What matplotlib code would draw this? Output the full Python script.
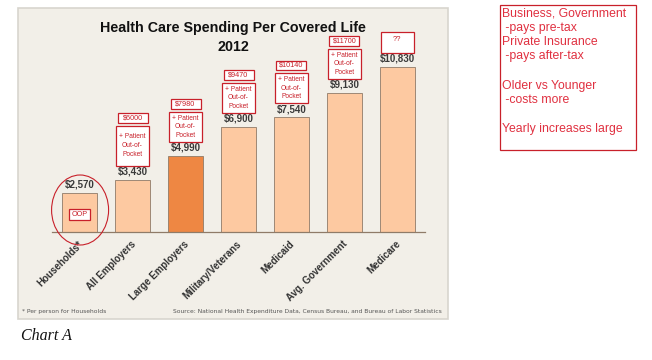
import matplotlib
matplotlib.use("Agg")
import matplotlib.pyplot as plt
from matplotlib.patches import Rectangle, Ellipse
from matplotlib import font_manager
import matplotlib.transforms as mtransforms

# data
categories = ["Households", "All Employers", "Large Employers", "Military/Veterans",
              "Medicaid", "Avg. Government", "Medicare"]
spending = [2570, 3430, 4990, 6900, 7540, 9130, 10830]
highlight = "Large Employers"
total_notes = [None, "$6000", "$7980", "$9470", "$10140", "$11700", "??"]
oop_text = "+ Patient\nOut-of-\nPocket"
side_notes = ["Business, Government", " -pays pre-tax", "Private Insurance", " -pays after-tax", "",
              "Older vs Younger", " -costs more", "", "Yearly increases large"]

W, H = 652, 360
RED = "#c8202a"
LIGHT = "#fdc9a1"
DARK = "#ee8743"

fig = plt.figure(figsize=(W / 100, H / 100), dpi=100)
fig.patch.set_facecolor("white")


def fx(x):
    return x / W


def fy(y):
    return 1 - y / H


# beige panel
fig.add_artist(Rectangle((fx(18), fy(319)), 430 / W, 311 / H, transform=fig.transFigure,
                         fc="#f2efe8", ec="#d8d5ce", lw=1.2, zorder=-1))

# axes: baseline at y=232 px, from x=52 to 425 px
ax_top, ax_bot = 8, 232
ax = fig.add_axes([fx(52), fy(ax_bot), (425 - 52) / W, (ax_bot - ax_top) / H])
ax.set_facecolor("none")
ymax = 14700
ax.set_ylim(0, ymax)
ax.set_xlim(-0.52, len(categories) - 0.48)
dpp = ymax / (ax_bot - ax_top)  # dollars per pixel
upx = (len(categories) + 0.04) / (425 - 52)  # x units per pixel

x = list(range(len(categories)))
colors = [DARK if c == highlight else LIGHT for c in categories]
ax.bar(x, spending, width=0.66, color=colors, edgecolor="#8f7b68", linewidth=0.6, zorder=2)

for s in ["top", "left", "right"]:
    ax.spines[s].set_visible(False)
ax.spines["bottom"].set_color("#8f7b68")
ax.spines["bottom"].set_linewidth(0.9)
ax.set_yticks([])
ax.set_xticks(x)
labels = [c + "*" if i == 0 else c for i, c in enumerate(categories)]
ax.set_xticklabels(labels, rotation=45, ha="right", rotation_mode="anchor",
                   fontsize=7, fontweight="bold", color="#333333", family="Liberation Sans")
ax.tick_params(axis="x", length=0, pad=5)
shift = mtransforms.ScaledTranslation(-2 / 100, 0, fig.dpi_scale_trans)
for lab in ax.get_xticklabels():
    lab.set_transform(lab.get_transform() + shift)

# value labels
for i, v in enumerate(spending):
    ax.text(i, v + 3 * dpp, f"${v:,}", ha="center", va="bottom", fontsize=7,
            fontweight="bold", color="#3a3a3a", family="Liberation Sans")

# red annotation boxes
for i, note in enumerate(total_notes):
    if note is None:
        continue
    bw = 33 * upx
    bottom = spending[i] + 14 * dpp
    if note == "??":
        h = 21 * dpp
        ax.add_patch(Rectangle((i - bw / 2, bottom), bw, h, fc="white", ec=RED, lw=0.9, zorder=3))
        ax.text(i, bottom + h - 4 * dpp, note, ha="center", va="top", fontsize=5.5,
                color=RED, family="Liberation Sans", zorder=4)
        continue
    h = (40 if i == 1 else 30) * dpp
    ax.add_patch(Rectangle((i - bw / 2, bottom), bw, h, fc="white", ec=RED, lw=0.9, zorder=3))
    ax.text(i, bottom + h / 2, oop_text, ha="center", va="center", fontsize=4.8,
            color=RED, family="Liberation Sans", linespacing=1.35, zorder=4)
    tb = bottom + h + 3 * dpp
    th = 9.5 * dpp
    tw = 30 * upx
    ax.add_patch(Rectangle((i - tw / 2, tb), tw, th, fc="white", ec=RED, lw=0.9, zorder=3))
    ax.text(i, tb + th / 2, note, ha="center", va="center", fontsize=5.2,
            color=RED, family="Liberation Sans", zorder=4)

# households: OOP box and circle
bw = 21 * upx
ax.add_patch(Rectangle((-bw / 2, 12 * dpp), bw, 11 * dpp, fc="white", ec=RED, lw=0.9, zorder=3))
ax.text(0, 17.5 * dpp, "OOP", ha="center", va="center", fontsize=5.2, color=RED,
        family="Liberation Sans", zorder=4)
ax.add_patch(Ellipse((0.01, 22 * dpp), 57 * upx, 70 * dpp, fill=False, ec=RED, lw=0.8,
                     zorder=4, clip_on=False))

# titles: a condensed bold face if one is installed, else Liberation Sans
fam_names = {f.name for f in font_manager.fontManager.ttflist}
if "Liberation Sans Narrow" in fam_names:
    tfont, tsize = "Liberation Sans Narrow", 12.2
else:
    tfont, tsize = "Liberation Sans", 10.3
fig.text(fx(233), fy(28), "Health Care Spending Per Covered Life", ha="center", va="center",
         fontsize=tsize, fontweight="bold", family=tfont, color="#111111")
fig.text(fx(233), fy(47), "2012", ha="center", va="center",
         fontsize=tsize, fontweight="bold", family=tfont, color="#111111")

# footers
fig.text(fx(22), fy(311), "* Per person for Households", ha="left", va="center",
         fontsize=4.35, color="#555555")
fig.text(fx(442), fy(311),
         "Source: National Health Expenditure Data, Census Bureau, and Bureau of Labor Statistics",
         ha="right", va="center", fontsize=4.35, color="#555555")

fig.text(fx(21), fy(336), "Chart A", ha="left", va="center", fontsize=11.5,
         family="Liberation Serif", style="italic", color="#111111")

# side notes box
fig.add_artist(Rectangle((fx(500), fy(150)), 136 / W, 145 / H, transform=fig.transFigure,
                         fill=False, ec=RED, lw=0.9))
for k, line in enumerate(side_notes):
    fig.text(fx(502), fy(13 + 14.5 * k), line, ha="left", va="center", fontsize=8.8,
             color="#e03040", family="Liberation Sans")

fig.savefig("out.png", dpi=100)
